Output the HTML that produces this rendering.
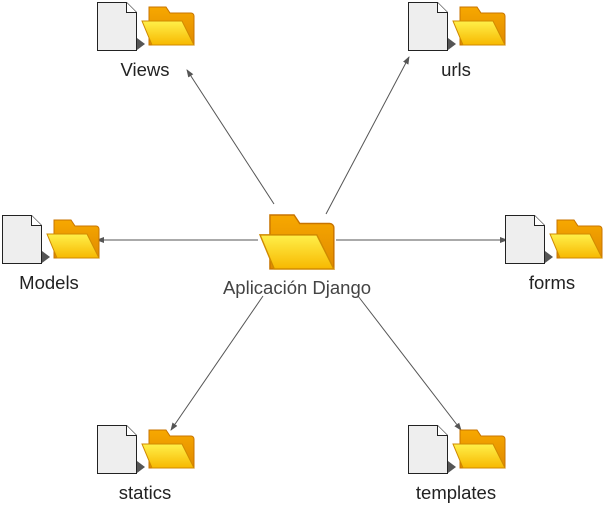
<!DOCTYPE html>
<html><head><meta charset="utf-8"><style>
html,body{margin:0;padding:0;background:#fff;width:603px;height:511px;overflow:hidden}
svg text{font-family:"Liberation Sans",sans-serif;font-size:18.5px;fill:#222}
</style></head><body>
<svg width="603" height="511" viewBox="0 0 603 511" xmlns="http://www.w3.org/2000/svg">
<defs>
<linearGradient id="fb" x1="0" y1="0" x2="0" y2="1"><stop offset="0" stop-color="#f7a800"/><stop offset="1" stop-color="#e08a00"/></linearGradient>
<linearGradient id="ff" x1="0" y1="0" x2="0" y2="1"><stop offset="0" stop-color="#fff04a"/><stop offset="1" stop-color="#f7b800"/></linearGradient>
<marker id="ar" markerWidth="8" markerHeight="8" refX="7" refY="4" orient="auto" markerUnits="userSpaceOnUse"><path d="M0,1 L8,4 L0,7 Z" fill="#555"/></marker>
<g id="folder">
<path d="M7,0 h17 l4,6 h21 a3,3 0 0 1 3,3 v29 h-45 z" fill="url(#fb)" stroke="#c87400" stroke-width="1"/>
<path d="M0,14 h40 l12,24 h-42 z" fill="url(#ff)" stroke="#d08a00" stroke-width="1"/>
</g>
<g id="grp">
<path d="M40,36 l8,6 l-8,6 z" fill="#555"/>
<path d="M0.5,0.5 h29 l10,10 v38 h-39 z" fill="#eee" stroke="#222" stroke-width="1"/>
<path d="M29.5,0.5 v10 h10" fill="#fff" stroke="#222" stroke-width="1"/>
<use href="#folder" x="45" y="5"/>
</g>
</defs>
<g stroke="#555" stroke-width="1" fill="none" marker-end="url(#ar)">
<line x1="274" y1="204" x2="187" y2="70"/>
<line x1="326" y1="214" x2="409" y2="57"/>
<line x1="258" y1="240" x2="97" y2="240"/>
<line x1="336" y1="240" x2="507" y2="240"/>
<line x1="263" y1="296" x2="171" y2="430"/>
<line x1="358" y1="296" x2="461" y2="430"/>
</g>
<use href="#grp" x="97" y="2"/>
<use href="#grp" x="408" y="2"/>
<use href="#grp" x="2" y="215"/>
<use href="#grp" x="505" y="215"/>
<use href="#grp" x="97" y="425"/>
<use href="#grp" x="408" y="425"/>
<g transform="translate(260,215) scale(1.42)"><use href="#folder"/></g>
<text x="145" y="76" text-anchor="middle">Views</text>
<text x="456" y="76" text-anchor="middle">urls</text>
<text x="49" y="289" text-anchor="middle">Models</text>
<text x="552" y="289" text-anchor="middle">forms</text>
<text x="145" y="499" text-anchor="middle">statics</text>
<text x="456" y="499" text-anchor="middle">templates</text>
<text x="297" y="294" text-anchor="middle" style="fill:#444">Aplicación Django</text>
</svg>
</body></html>
